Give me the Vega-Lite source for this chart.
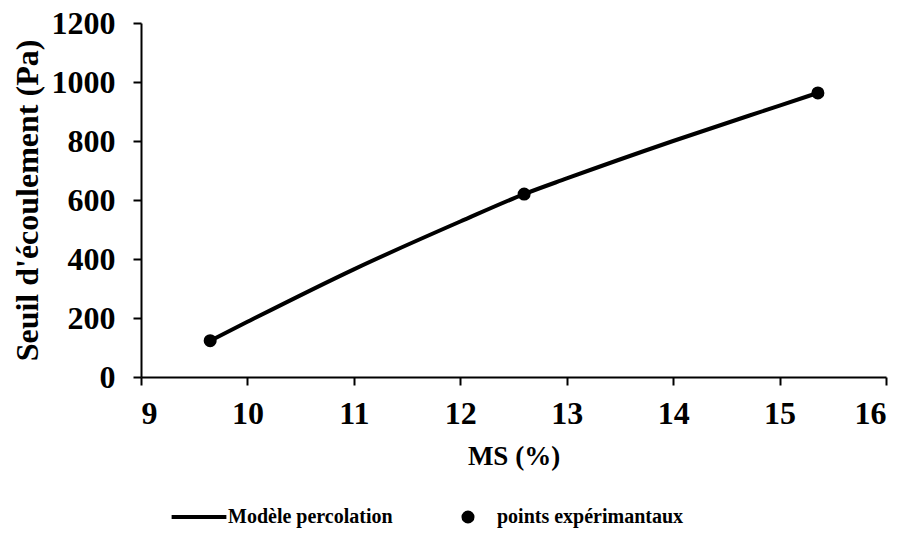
{
  "$schema": "https://vega.github.io/schema/vega-lite/v6.json",
  "width": 745,
  "height": 354,
  "autosize": {"type": "none"},
  "padding": {"left": 141, "top": 23, "right": 20, "bottom": 167},
  "background": "white",
  "config": {
    "font": "Liberation Serif",
    "view": {"stroke": null},
    "axis": {
      "grid": false,
      "domainColor": "black",
      "domainWidth": 2,
      "tickColor": "black",
      "tickWidth": 2,
      "tickSize": 8,
      "labelFont": "Liberation Serif",
      "labelFontWeight": "bold",
      "labelFontSize": 32,
      "labelColor": "black",
      "titleFont": "Liberation Serif",
      "titleFontWeight": "bold",
      "titleFontSize": 27,
      "titleColor": "black",
      "format": "d"
    },
    "legend": {
      "labelFont": "Liberation Serif",
      "labelFontWeight": "bold",
      "labelFontSize": 20,
      "labelColor": "black",
      "labelLimit": 400
    }
  },
  "datasets": {
    "modele": [
      {"MS": 9.65, "seuil": 123, "serie": "Modèle percolation"},
      {"MS": 10, "seuil": 187, "serie": "Modèle percolation"},
      {"MS": 11, "seuil": 365, "serie": "Modèle percolation"},
      {"MS": 12, "seuil": 527, "serie": "Modèle percolation"},
      {"MS": 12.6, "seuil": 620, "serie": "Modèle percolation"},
      {"MS": 13, "seuil": 673, "serie": "Modèle percolation"},
      {"MS": 14, "seuil": 800, "serie": "Modèle percolation"},
      {"MS": 15, "seuil": 920, "serie": "Modèle percolation"},
      {"MS": 15.36, "seuil": 963, "serie": "Modèle percolation"}
    ],
    "points": [
      {"MS": 9.65, "seuil": 123, "serie": "points expérimantaux"},
      {"MS": 12.6, "seuil": 620, "serie": "points expérimantaux"},
      {"MS": 15.36, "seuil": 963, "serie": "points expérimantaux"}
    ]
  },
  "layer": [
    {
      "data": {"name": "modele"},
      "mark": {"type": "line", "interpolate": "monotone", "strokeWidth": 4},
      "encoding": {
        "x": {
          "field": "MS", "type": "quantitative",
          "scale": {"domain": [9, 16], "nice": false, "zero": false},
          "axis": {"values": [9, 10, 11, 12, 13, 14, 15, 16], "title": "MS (%)", "labelPadding": 13, "titlePadding": 14}
        },
        "y": {
          "field": "seuil", "type": "quantitative",
          "scale": {"domain": [0, 1200], "nice": false},
          "axis": {"values": [0, 200, 400, 600, 800, 1000, 1200], "title": "Seuil d'écoulement (Pa)", "titleFontSize": 32, "labelPadding": 18, "titlePadding": 7}
        },
        "color": {
          "field": "serie", "type": "nominal",
          "scale": {"domain": ["Modèle percolation", "points expérimantaux"], "range": ["black", "black"]},
          "legend": {
            "title": null,
            "orient": "none",
            "legendX": 48,
            "legendY": 484,
            "direction": "horizontal",
            "columnPadding": 65,
            "labelOffset": 19,
            "symbolSize": 3000,
            "symbolStrokeWidth": 4,
            "encode": {
              "symbols": {
                "update": {
                  "shape": {"signal": "datum.value === 'Modèle percolation' ? 'stroke' : 'circle'"},
                  "size": {"signal": "datum.value === 'Modèle percolation' ? 3000 : 170"},
                  "strokeWidth": {"signal": "datum.value === 'Modèle percolation' ? 4 : 0"},
                  "stroke": {"value": "black"},
                  "fill": {"value": "black"},
                  "opacity": {"value": 1}
                }
              }
            }
          }
        }
      }
    },
    {
      "data": {"name": "points"},
      "mark": {"type": "point", "filled": true, "size": 170, "opacity": 1},
      "encoding": {
        "x": {"field": "MS", "type": "quantitative"},
        "y": {"field": "seuil", "type": "quantitative"},
        "color": {"field": "serie", "type": "nominal"}
      }
    }
  ]
}
